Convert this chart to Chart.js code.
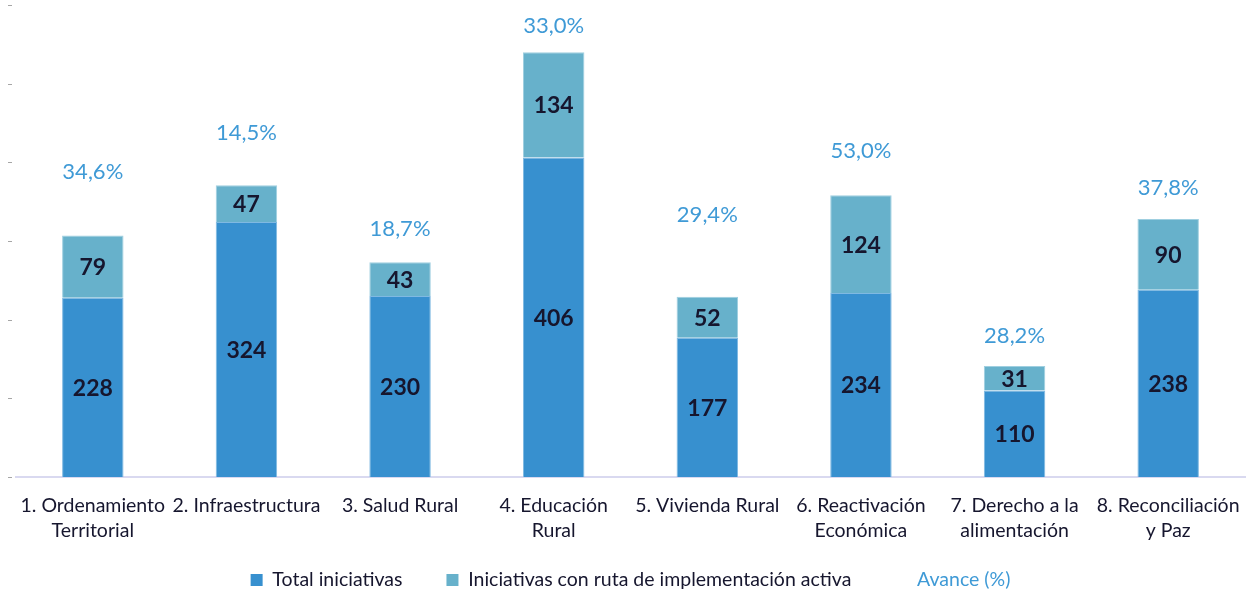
<!DOCTYPE html>
<html><head><meta charset="utf-8">
<script src="https://cdn.jsdelivr.net/npm/chart.js@4/dist/chart.umd.min.js"></script>
<style>html,body{margin:0;padding:0;background:#fff;} #wrap{width:1248px;height:592px;position:relative;}</style>
</head><body><div id="wrap"><canvas id="c"></canvas></div>
<script>
const categories = [["1. Ordenamiento","Territorial"],"2. Infraestructura","3. Salud Rural",["4. Educación","Rural"],"5. Vivienda Rural",["6. Reactivación","Económica"],["7. Derecho a la","alimentación"],["8. Reconciliación","y Paz"]];
const totalIniciativas = [228,324,230,406,177,234,110,238];
const rutaActiva = [79,47,43,134,52,124,31,90];
const avancePct = [34.6,14.5,18.7,33.0,29.4,53.0,28.2,37.8];
const yTickValues = [0,100,200,300,400,500,600];

const C_TOTAL = '#3790cf', C_RUTA = '#67b1cb', C_AVANCE = '#3f9ad6', C_TEXT = '#16162e';
const FONT = 'Lato, "Open Sans", sans-serif';
// extra height (in axis units) above each stacked bar where the "Avance" label sits
const avanceLabelLift = [81, 67, 42, 33, 104, 57, 38, 40];

const valueLabels = {
  id: 'valueLabels',
  afterDatasetsDraw(chart) {
    const ctx = chart.ctx;
    ctx.save();
    ctx.font = 'bold 23px ' + FONT;
    ctx.fillStyle = C_TEXT;
    ctx.textAlign = 'center';
    ctx.textBaseline = 'middle';
    chart.data.datasets.forEach((ds, di) => {
      const meta = chart.getDatasetMeta(di);
      meta.data.forEach((el, i) => {
        const y = (el.y + el.base) / 2;
        ctx.fillText(String(ds.data[i]), el.x, y + 1);
      });
    });
    const ys = chart.scales.y;
    const meta = chart.getDatasetMeta(1);
    ctx.font = '22px ' + FONT;
    ctx.fillStyle = C_AVANCE;
    meta.data.forEach((el, i) => {
      const top = totalIniciativas[i] + rutaActiva[i];
      const y = ys.getPixelForValue(top + avanceLabelLift[i]);
      ctx.fillText(avancePct[i].toFixed(1).replace('.', ',') + '%', el.x, y);
    });
    ctx.strokeStyle = '#a6a6a6';
    ctx.lineWidth = 1;
    yTickValues.forEach(v => {
      const y = Math.round(ys.getPixelForValue(v)) + 0.5;
      ctx.beginPath();
      ctx.moveTo(8, y); ctx.lineTo(12, y);
      ctx.stroke();
    });
    ctx.restore();
  }
};

// moves the legend row up so it sits closer to the category labels
const legendShift = {
  id: 'legendShift',
  afterLayout(chart) {
    const lg = chart.legend;
    if (lg) { lg.top -= 18.75; lg.bottom -= 18.75; }
  }
};

new Chart(document.getElementById('c'), {
  type: 'bar',
  data: {
    labels: categories,
    datasets: [
      { label: 'Total iniciativas', data: totalIniciativas, backgroundColor: C_TOTAL, borderColor: '#7fb9e2', borderWidth: 1, categoryPercentage: 1, barPercentage: 0.4 },
      { label: 'Iniciativas con ruta de implementación activa', data: rutaActiva, backgroundColor: C_RUTA, borderColor: '#9fcfe0', borderWidth: 1, categoryPercentage: 1, barPercentage: 0.4 }
    ]
  },
  options: {
    responsive: true,
    maintainAspectRatio: false,
    animation: false,
    layout: { padding: { left: 16, right: 3, top: 5, bottom: -26.5 } },
    scales: {
      x: {
        stacked: true,
        grid: { display: false },
        border: { color: '#d9d9f0', width: 2 },
        ticks: { color: C_TEXT, font: { family: FONT, size: 19.5, lineHeight: 1.28 }, autoSkip: false, maxRotation: 0, minRotation: 0, padding: 8 },
        afterFit(scale) { scale.height = 68; }
      },
      y: {
        stacked: true, display: false, min: 0, max: 600
      }
    },
    plugins: {
      tooltip: { enabled: false },
      legend: {
        position: 'bottom',
        onClick: null,
        labels: {
          font: { family: FONT, size: 19.5 },
          color: C_TEXT,
          boxWidth: 12, boxHeight: 12,
          padding: 44,
          generateLabels: () => [
            { text: 'Total iniciativas', fillStyle: C_TOTAL, strokeStyle: C_TOTAL, lineWidth: 0, fontColor: C_TEXT, hidden: false, datasetIndex: 0 },
            { text: 'Iniciativas con ruta de implementación activa', fillStyle: C_RUTA, strokeStyle: C_RUTA, lineWidth: 0, fontColor: C_TEXT, hidden: false, datasetIndex: 1 },
            { text: 'Avance (%)', fillStyle: 'rgba(0,0,0,0)', strokeStyle: 'rgba(0,0,0,0)', lineWidth: 0, fontColor: C_AVANCE, hidden: false }
          ]
        }
      }
    }
  },
  plugins: [valueLabels, legendShift]
});
</script></body></html>
